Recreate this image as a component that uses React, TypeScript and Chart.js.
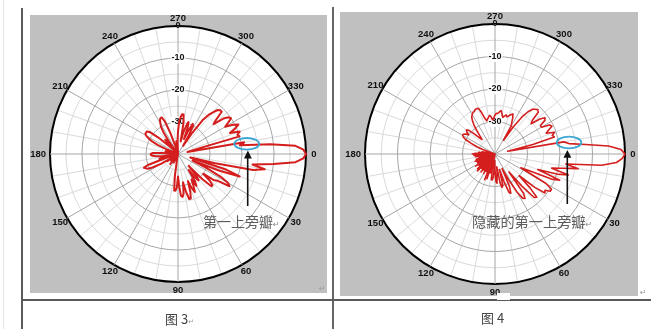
import React, { useEffect, useRef } from "react";
import { Chart, registerables } from "chart.js";

Chart.register(...registerables);

// ---- categories: azimuth angle (deg), clockwise from the right-hand axis ----
const ANGLES: number[] = [
  0, 2, 4, 6, 8, 10, 12, 14, 16, 18, 20, 22, 24, 26, 28,
  30, 32, 34, 36, 38, 40, 42, 44, 46, 48, 50, 52, 54, 56, 58,
  60, 62, 64, 66, 68, 70, 72, 74, 76, 78, 80, 82, 84, 86, 88,
  90, 92, 94, 96, 98, 100, 102, 104, 106, 108, 110, 112, 114, 116, 118,
  120, 122, 124, 126, 128, 130, 132, 134, 136, 138, 140, 142, 144, 146, 148,
  150, 152, 154, 156, 158, 160, 162, 164, 166, 168, 170, 172, 174, 176, 178,
  180, 182, 184, 186, 188, 190, 192, 194, 196, 198, 200, 202, 204, 206, 208,
  210, 212, 214, 216, 218, 220, 222, 224, 226, 228, 230, 232, 234, 236, 238,
  240, 242, 244, 246, 248, 250, 252, 254, 256, 258, 260, 262, 264, 266, 268,
  270, 272, 274, 276, 278, 280, 282, 284, 286, 288, 290, 292, 294, 296, 298,
  300, 302, 304, 306, 308, 310, 312, 314, 316, 318, 320, 322, 324, 326, 328,
  330, 332, 334, 336, 338, 340, 342, 344, 346, 348, 350, 352, 354, 356, 358,
];

// ---- series: pattern level (dB) of 图3 ----
const FIG3_DB: number[] = [
  0, -0.8, -3.2, -10, -16.5, -12.5, -16, -28, -36, -24, -19.5, -26, -35, -30, -25,
  -22, -21, -25, -26, -30, -27, -25.5, -25.5, -29, -35, -31, -29.5, -31, -34, -30,
  -28.5, -31, -29, -27, -28.5, -31, -27.5, -25.5, -25.5, -28, -31, -27.5, -26.5, -27, -30,
  -33, -29.5, -28.5, -28.5, -33, -38, -40, -38, -40, -40, -38, -40, -40, -37, -40,
  -40, -38, -40, -40, -36, -40, -39, -40, -37, -40, -40, -38, -40, -36, -38,
  -34, -31, -29.5, -29, -28.5, -30, -36, -40, -34, -37, -40, -35, -33, -32, -31.5,
  -31.5, -32, -35, -40, -37, -40, -36, -40, -40, -37, -40, -36, -33, -31, -29.5,
  -28.5, -28, -28, -28, -29, -32, -37, -40, -36, -34, -37, -40, -35, -32, -30,
  -29, -28, -27.5, -27.5, -29, -33, -38, -40, -40, -38, -40, -36, -40, -40, -36,
  -33, -30, -28.5, -27.5, -27.5, -30, -36, -33, -31, -29.5, -31, -35, -32, -29.5, -30,
  -33, -37, -32, -27, -24.5, -23, -21.5, -21, -21, -24, -25.5, -22, -20.5, -20, -21.5,
  -23, -20.5, -19, -20.5, -22.5, -19.5, -20.5, -20, -36, -37, -19, -20.5, -11, -3.2, -0.8,
];

// ---- series: pattern level (dB) of 图4 ----
const FIG4_DB: number[] = [
  0, -0.8, -2.5, -7, -18, -14, -19, -22, -16.5, -20, -26, -18.5, -21, -28, -31,
  -22, -19.5, -19.5, -21, -20.5, -24, -30, -25, -21.5, -22, -27, -33, -25, -23.5, -24,
  -26.5, -31, -35, -29, -27, -27.5, -31, -35, -30, -29.5, -31, -36, -34, -31, -31.5,
  -35, -38, -33, -32, -32, -35, -40, -34, -40, -32, -40, -31.5, -40, -34, -40,
  -33, -40, -34, -40, -33, -40, -34, -40, -32.5, -38, -33, -40, -34, -40, -33,
  -40, -34, -40, -34, -40, -33.5, -40, -34, -40, -35, -40, -34, -40, -33.5, -40,
  -33, -34, -40, -35, -40, -36, -40, -38, -40, -40, -36, -34, -32, -30, -29,
  -28.5, -28.5, -29, -30, -29, -28.5, -29, -31, -33, -34, -33, -31, -29, -27.5, -26.5,
  -26, -25.5, -25.5, -25, -25, -25, -26.5, -28.5, -29.5, -29, -28.5, -28, -28.5, -29.5, -29,
  -28, -27.5, -27.5, -27, -26.5, -27.5, -28.5, -28, -27.5, -28, -27.5, -27, -26.5, -27.5, -29,
  -30, -35, -30, -26, -23.5, -22, -21.5, -21, -21.5, -24.5, -25.5, -22.5, -21, -21.5, -23.5,
  -23.5, -21, -20.5, -22, -23, -20.5, -21.5, -21, -28, -36, -18.5, -17, -12, -5, -1.2,
];

// ---- axis definitions ----
const DB_MIN = -40;
const DB_MAX = 0;
const DB_STEP = 5;
const TICK_LABELS: number[] = [-30, -20, -10, 0];
const ANGLE_LABELS: number[] = [0, 30, 60, 90, 120, 150, 180, 210, 240, 270, 300, 330];
const MINOR_SPOKES: number[] = [10, 20, 40, 50, 70, 80, 100, 110, 130, 140, 160, 170, 190, 200, 220, 230, 250, 260, 280, 290, 310, 320, 340, 350];
const MINOR_SPOKE_FROM = -35;
const TOP_ANGLE = 270;

const RED = "#d41e1e";
const MAJOR_GRID = "#a6a6a6";
const MINOR_GRID = "#dadada";

type Pad = { left: number; right: number; top: number; bottom: number };

function PolarChart(props: {
  values: number[];
  left: number;
  top: number;
  width: number;
  height: number;
  padding: Pad;
  lineWidth: number;
}) {
  const ref = useRef<HTMLCanvasElement | null>(null);

  useEffect(() => {
    const canvas = ref.current;
    if (!canvas) return;
    const start = ANGLES.indexOf(TOP_ANGLE);
    const order = ANGLES.map((_, i) => (i + start) % ANGLES.length);
    const labels = order.map((k) => ANGLES[k]);
    const data = order.map((k) => props.values[k]);

    const decor = {
      id: "polarDecor",
      beforeDraw(chart: any) {
        const s = chart.scales.r;
        const ctx = chart.ctx;
        ctx.save();
        ctx.fillStyle = "#ffffff";
        ctx.beginPath();
        ctx.arc(s.xCenter, s.yCenter, s.drawingArea, 0, Math.PI * 2);
        ctx.fill();
        const rIn = s.getDistanceFromCenterForValue(MINOR_SPOKE_FROM);
        ctx.strokeStyle = MINOR_GRID;
        ctx.lineWidth = 1;
        labels.forEach((a, i) => {
          if (MINOR_SPOKES.includes(a)) {
            const p1 = s.getPointPosition(i, rIn);
            const p2 = s.getPointPosition(i, s.drawingArea);
            ctx.beginPath();
            ctx.moveTo(p1.x, p1.y);
            ctx.lineTo(p2.x, p2.y);
            ctx.stroke();
          }
        });
        ctx.restore();
      },
      afterDraw(chart: any) {
        const s = chart.scales.r;
        const ctx = chart.ctx;
        ctx.save();
        ctx.font = 'bold 9.5px "Liberation Sans", Arial, sans-serif';
        ctx.fillStyle = "#111";
        ctx.textAlign = "center";
        ctx.textBaseline = "middle";
        labels.forEach((a, i) => {
          if (ANGLE_LABELS.includes(a)) {
            const txt = String(a);
            const w = ctx.measureText(txt).width;
            const horiz = Math.abs(Math.cos((a * Math.PI) / 180));
            const extra = horiz > 0.99 ? Math.max(0, w / 2 - 4) : 0;
            const p = s.getPointPosition(i, s.drawingArea + 8 + extra);
            ctx.fillText(txt, p.x, p.y);
          }
        });
        ctx.restore();
      },
    };

    const chart = new Chart(canvas, {
      type: "radar",
      data: {
        labels,
        datasets: [
          {
            data,
            borderColor: RED,
            borderWidth: props.lineWidth,
            borderJoinStyle: "round",
            pointRadius: 0,
            pointHoverRadius: 0,
            fill: false,
            tension: 0,
          },
        ],
      },
      options: {
        responsive: false,
        animation: false,
        events: [],
        layout: { padding: props.padding },
        plugins: { legend: { display: false }, tooltip: { enabled: false } },
        scales: {
          r: {
            min: DB_MIN,
            max: DB_MAX,
            startAngle: 0,
            ticks: {
              stepSize: DB_STEP,
              callback: (v: any) => (TICK_LABELS.includes(Number(v)) ? String(v) : ""),
              font: { family: '"Liberation Sans", Arial, sans-serif', size: 9, weight: "bold" },
              color: "#111",
              showLabelBackdrop: true,
              backdropPadding: 1,
              backdropColor: (c: any) =>
                c.tick && c.tick.value !== DB_MAX && TICK_LABELS.includes(c.tick.value)
                  ? "rgba(255,255,255,0.9)"
                  : "rgba(255,255,255,0)",
            },
            grid: {
              circular: true,
              color: (c: any) =>
                c.tick.value === DB_MAX ? "#000" : c.tick.value % 10 === 0 ? MAJOR_GRID : MINOR_GRID,
              lineWidth: (c: any) => (c.tick.value === DB_MAX ? 2 : 1),
            },
            angleLines: {
              display: true,
              color: (c: any) => (ANGLE_LABELS.includes(labels[c.index]) ? MAJOR_GRID : "rgba(0,0,0,0)"),
              lineWidth: (c: any) => (ANGLE_LABELS.includes(labels[c.index]) ? 1 : 0),
            },
            pointLabels: { display: false },
          },
        },
      } as any,
      plugins: [decor],
    });
    return () => chart.destroy();
  }, []);

  return (
    <canvas
      ref={ref}
      width={props.width}
      height={props.height}
      style={{
        position: "absolute",
        left: props.left,
        top: props.top,
        width: props.width,
        height: props.height,
        background: "#c0c0c0",
      }}
    />
  );
}

const abs = (l: number, t: number, w: number, h: number, bg: string): React.CSSProperties => ({
  position: "absolute",
  left: l,
  top: t,
  width: w,
  height: h,
  background: bg,
});

const cjk = '"Noto Sans CJK SC", "Noto Sans", sans-serif';

export default function App() {
  return (
    <div
      style={{
        position: "absolute",
        left: 0,
        top: 0,
        width: 668,
        height: 329,
        background: "#fff",
        overflow: "hidden",
      }}
    >
      <div style={abs(3, 0, 1, 329, "#e4e4e4")} />
      <div style={abs(21, 8, 2, 321, "#5a5a5a")} />
      <div style={abs(332, 7, 2, 322, "#666")} />
      <div style={abs(22, 299, 629, 2, "#5a5a5a")} />

      <PolarChart
        values={FIG3_DB}
        left={30}
        top={15}
        width={297}
        height={278}
        padding={{ left: 14, right: 15, top: 5, bottom: 5 }}
        lineWidth={2}
      />
      <PolarChart
        values={FIG4_DB}
        left={340}
        top={12}
        width={298}
        height={284}
        padding={{ left: 20, right: 7, top: 7, bottom: 6 }}
        lineWidth={1.6}
      />
      <div style={abs(497, 293, 13, 7, "#fff")} />

      <svg width={668} height={329} style={{ position: "absolute", left: 0, top: 0 }}>
        <ellipse cx={246.8} cy={143.8} rx={12.5} ry={5.8} fill="none" stroke="#3ea8d4" strokeWidth={1.8} />
        <line x1={247.7} y1={206} x2={247.7} y2={157} stroke="#111" strokeWidth={1.6} />
        <polygon points="247.9,150.5 244,158.5 251.8,158.5" fill="#111" />
        <ellipse cx={569} cy={142.5} rx={12.3} ry={5.8} fill="none" stroke="#3ea8d4" strokeWidth={1.8} />
        <line x1={567.3} y1={204} x2={567.3} y2={157} stroke="#111" strokeWidth={1.6} />
        <polygon points="567.4,150 563.5,157.8 571.3,157.8" fill="#111" />
      </svg>

      <div style={{ position: "absolute", left: 203, top: 212, fontFamily: cjk, fontSize: 14, lineHeight: "18px", color: "#5c5c5c", whiteSpace: "nowrap" }}>
        第一上旁瓣<span style={{ fontSize: 8, color: "#888", fontFamily: "DejaVu Sans" }}>↵</span>
      </div>
      <div style={{ position: "absolute", left: 472, top: 212, fontFamily: cjk, fontSize: 14.2, lineHeight: "18px", color: "#5c5c5c", whiteSpace: "nowrap" }}>
        隐藏的第一上旁瓣<span style={{ fontSize: 8, color: "#888", fontFamily: "DejaVu Sans" }}>↵</span>
      </div>

      <div style={{ position: "absolute", left: 319, top: 284, fontSize: 8, color: "#999", fontFamily: "DejaVu Sans" }}>↵</div>
      <div style={{ position: "absolute", left: 640, top: 288, fontSize: 8, color: "#999", fontFamily: "DejaVu Sans" }}>↵</div>

      <div style={{ position: "absolute", left: 165, top: 310, fontFamily: cjk, fontSize: 13, lineHeight: "17px", color: "#444", whiteSpace: "nowrap" }}>
        图 3<span style={{ fontSize: 7, color: "#999", fontFamily: "DejaVu Sans" }}>↵</span>
      </div>
      <div style={{ position: "absolute", left: 481, top: 309, fontFamily: cjk, fontSize: 13, lineHeight: "17px", color: "#444", whiteSpace: "nowrap" }}>
        图 4
      </div>
    </div>
  );
}
